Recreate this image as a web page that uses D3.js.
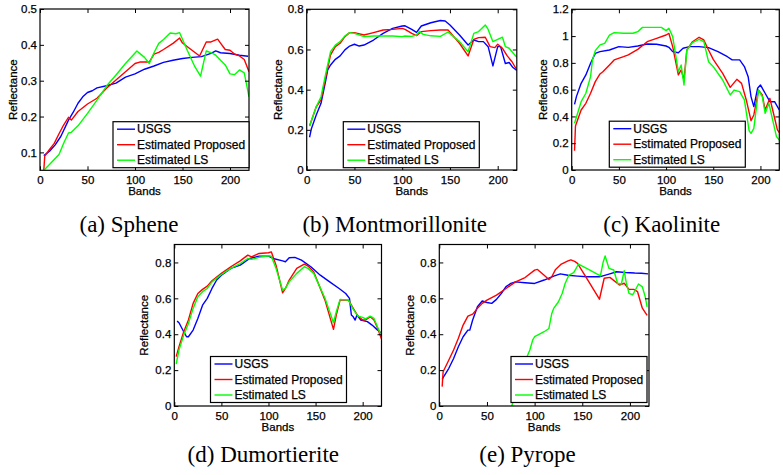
<!DOCTYPE html>
<html>
<head>
<meta charset="utf-8">
<script src="https://cdn.jsdelivr.net/npm/d3@7"></script>
<style>
  body { margin: 0; background: #fff; }
  svg { display: block; }
</style>
</head>
<body>
<svg width="783" height="475"></svg>
<script>
const seriesNames = ["USGS", "Estimated Proposed", "Estimated LS"];
const seriesColors = ["#0000ff", "#ff0000", "#00ff00"];
const xDomain = [0, 220];
const xTicks = [0, 50, 100, 150, 200];

// (a) Sphene  [band, reflectance]
const spheneUSGS = [[4,0.091],[10,0.103],[16,0.121],[22,0.145],[30,0.19],[35,0.212],[40,0.237],[45,0.255],[50,0.267],[55,0.272],[60,0.28],[70,0.286],[80,0.293],[90,0.31],[100,0.319],[110,0.332],[120,0.341],[130,0.351],[140,0.357],[150,0.362],[160,0.365],[170,0.367],[180,0.376],[185,0.383],[190,0.378],[200,0.376],[210,0.371],[219,0.368]];
const spheneProposed = [[4,0.05],[5,0.09],[10,0.108],[15,0.125],[20,0.152],[25,0.177],[30,0.198],[33,0.19],[40,0.214],[50,0.235],[60,0.251],[70,0.279],[80,0.302],[90,0.325],[100,0.348],[105,0.352],[115,0.352],[120,0.374],[125,0.379],[130,0.387],[140,0.404],[147,0.419],[150,0.405],[160,0.385],[168,0.369],[175,0.408],[180,0.408],[187,0.416],[190,0.405],[195,0.387],[200,0.385],[205,0.374],[210,0.369],[215,0.359],[220,0.325]];
const spheneLS = [[4,0.05],[10,0.066],[20,0.094],[25,0.126],[30,0.154],[33,0.156],[40,0.174],[50,0.209],[60,0.246],[70,0.285],[80,0.316],[90,0.348],[102,0.383],[110,0.365],[115,0.348],[120,0.378],[125,0.404],[130,0.415],[137,0.433],[143,0.431],[147,0.434],[155,0.385],[163,0.339],[169,0.313],[175,0.383],[180,0.378],[185,0.371],[190,0.357],[195,0.344],[200,0.319],[205,0.317],[210,0.33],[215,0.322],[220,0.255]];

// (b) Montmorillonite
const montUSGS = [[3,0.163],[5,0.207],[10,0.274],[15,0.332],[20,0.448],[22,0.498],[25,0.523],[30,0.551],[35,0.568],[40,0.598],[45,0.617],[50,0.626],[55,0.617],[60,0.622],[70,0.647],[80,0.68],[90,0.705],[100,0.717],[103,0.718],[110,0.7],[115,0.685],[120,0.717],[130,0.733],[140,0.744],[145,0.742],[150,0.722],[160,0.672],[169,0.622],[175,0.647],[180,0.639],[185,0.639],[190,0.614],[195,0.518],[200,0.614],[203,0.614],[208,0.53],[212,0.535],[216,0.51],[220,0.495]];
const montProposed = [[3,0.219],[10,0.315],[15,0.349],[20,0.465],[25,0.573],[30,0.614],[35,0.631],[40,0.664],[45,0.684],[50,0.684],[60,0.672],[70,0.684],[80,0.697],[90,0.7],[100,0.705],[103,0.7],[110,0.68],[115,0.669],[120,0.689],[130,0.694],[140,0.697],[148,0.697],[160,0.631],[169,0.568],[175,0.65],[180,0.659],[187,0.661],[192,0.614],[197,0.609],[200,0.626],[205,0.606],[210,0.568],[215,0.539],[220,0.498]];
const montLS = [[3,0.219],[10,0.315],[15,0.365],[20,0.481],[25,0.589],[30,0.622],[35,0.639],[40,0.667],[45,0.684],[50,0.68],[60,0.664],[70,0.667],[80,0.667],[90,0.667],[100,0.664],[103,0.667],[110,0.665],[115,0.672],[118,0.69],[122,0.675],[130,0.668],[140,0.665],[148,0.687],[160,0.639],[169,0.589],[175,0.68],[180,0.689],[187,0.722],[190,0.7],[195,0.639],[200,0.65],[205,0.661],[208,0.614],[212,0.606],[215,0.589],[220,0.561]];

// (c) Kaolinite
const kaolUSGS = [[3,0.49],[5,0.548],[10,0.647],[15,0.71],[20,0.797],[25,0.871],[30,0.884],[40,0.896],[50,0.921],[60,0.916],[70,0.926],[80,0.941],[90,0.939],[100,0.926],[103,0.916],[107,0.884],[113,0.876],[118,0.909],[125,0.921],[135,0.921],[145,0.914],[155,0.884],[165,0.846],[170,0.822],[178,0.822],[183,0.772],[187,0.697],[190,0.548],[193,0.473],[197,0.61],[200,0.635],[205,0.573],[210,0.51],[215,0.51],[220,0.448]];
const kaolProposed = [[3,0.144],[4,0.329],[10,0.448],[15,0.498],[20,0.573],[25,0.66],[30,0.717],[33,0.734],[40,0.784],[45,0.822],[55,0.846],[60,0.859],[70,0.901],[80,0.958],[90,0.983],[100,1.008],[103,1.02],[107,0.921],[113,0.71],[116,0.747],[119,0.672],[122,0.896],[128,0.958],[135,0.991],[140,0.971],[145,0.896],[150,0.826],[160,0.722],[168,0.617],[175,0.677],[180,0.647],[185,0.523],[190,0.368],[193,0.411],[198,0.597],[202,0.56],[205,0.448],[210,0.535],[213,0.448],[218,0.299],[220,0.279]];
const kaolLS = [[3,0.349],[10,0.51],[15,0.573],[20,0.697],[22,0.822],[25,0.891],[30,0.934],[35,0.946],[40,1.008],[45,1.026],[55,1.021],[65,1.021],[70,1.033],[75,1.065],[85,1.065],[95,1.065],[100,1.041],[103,1.058],[107,0.996],[113,0.734],[116,0.784],[119,0.635],[122,0.896],[128,0.951],[135,0.976],[140,0.958],[145,0.809],[150,0.772],[160,0.672],[168,0.56],[172,0.597],[178,0.585],[183,0.523],[188,0.294],[190,0.274],[193,0.311],[198,0.597],[202,0.548],[205,0.423],[209,0.498],[213,0.373],[217,0.249],[220,0.224]];

// (d) Dumortierite
const dumoUSGS = [[3,0.473],[5,0.464],[10,0.414],[13,0.386],[15,0.386],[20,0.423],[25,0.488],[30,0.562],[35,0.6],[40,0.655],[45,0.702],[50,0.729],[60,0.767],[70,0.785],[80,0.822],[90,0.835],[100,0.835],[105,0.822],[115,0.809],[118,0.804],[122,0.826],[128,0.828],[135,0.813],[145,0.776],[155,0.729],[165,0.692],[175,0.655],[182,0.627],[186,0.6],[188,0.507],[190,0.497],[192,0.479],[194,0.507],[198,0.479],[205,0.47],[210,0.451],[215,0.427],[220,0.405]];
const dumoProposed = [[2,0.275],[5,0.33],[10,0.414],[15,0.479],[20,0.572],[25,0.627],[30,0.65],[35,0.668],[40,0.698],[50,0.739],[60,0.776],[70,0.809],[78,0.841],[82,0.831],[90,0.85],[100,0.854],[103,0.859],[108,0.785],[115,0.631],[118,0.655],[122,0.702],[130,0.767],[138,0.791],[142,0.78],[148,0.748],[160,0.59],[169,0.427],[172,0.507],[176,0.59],[185,0.59],[190,0.544],[195,0.501],[200,0.479],[203,0.479],[208,0.497],[212,0.479],[216,0.432],[220,0.373]];
const dumoLS = [[2,0.234],[5,0.312],[10,0.395],[15,0.46],[20,0.544],[25,0.609],[30,0.637],[35,0.655],[40,0.692],[50,0.733],[60,0.767],[70,0.794],[78,0.822],[82,0.817],[90,0.828],[100,0.837],[103,0.835],[108,0.767],[115,0.646],[118,0.655],[122,0.692],[130,0.739],[138,0.776],[142,0.767],[148,0.739],[160,0.6],[169,0.464],[172,0.525],[176,0.594],[185,0.59],[190,0.538],[195,0.501],[200,0.494],[203,0.486],[208,0.501],[212,0.488],[216,0.438],[219,0.401]];

// (e) Pyrope
const pyroUSGS = [[3,0.148],[5,0.167],[10,0.21],[15,0.265],[20,0.33],[25,0.386],[30,0.423],[32,0.423],[35,0.479],[40,0.553],[45,0.585],[50,0.577],[55,0.572],[60,0.594],[65,0.627],[70,0.665],[75,0.683],[80,0.692],[90,0.687],[100,0.683],[110,0.702],[120,0.724],[127,0.736],[135,0.729],[145,0.724],[155,0.72],[168,0.72],[178,0.735],[186,0.748],[195,0.744],[205,0.741],[212,0.74],[219,0.736]];
const pyroProposed = [[3,0.108],[4,0.191],[10,0.256],[15,0.312],[20,0.377],[25,0.451],[30,0.501],[35,0.512],[40,0.544],[45,0.572],[50,0.59],[60,0.618],[70,0.655],[80,0.692],[90,0.716],[100,0.757],[103,0.761],[110,0.729],[115,0.705],[118,0.72],[122,0.761],[128,0.791],[135,0.809],[138,0.814],[142,0.806],[145,0.795],[156,0.7],[168,0.595],[173,0.712],[179,0.717],[189,0.674],[194,0.684],[199,0.65],[204,0.65],[208,0.637],[213,0.545],[218,0.505]];
const pyroLS = [[74,-0.02],[76,0.0],[92,0.275],[95,0.312],[98,0.368],[100,0.386],[103,0.395],[110,0.414],[115,0.432],[118,0.516],[120,0.544],[125,0.581],[129,0.628],[132,0.683],[136,0.73],[141,0.743],[146,0.79],[158,0.757],[169,0.725],[172,0.804],[174,0.836],[178,0.767],[183,0.758],[187,0.684],[191,0.68],[194,0.754],[196,0.69],[199,0.628],[203,0.62],[209,0.68],[213,0.664],[216,0.61],[218,0.553]];

const captions = ["(a) Sphene", "(b) Montmorillonite", "(c) Kaolinite", "(d) Dumortierite", "(e) Pyrope"];
const yDomains = [[0.05, 0.5], [0, 0.8], [0, 1.2], [0, 0.9], [0, 0.9]];
const yTicks = [
  [0.1, 0.2, 0.3, 0.4, 0.5],
  [0, 0.2, 0.4, 0.6, 0.8],
  [0, 0.2, 0.4, 0.6, 0.8, 1, 1.2],
  [0, 0.2, 0.4, 0.6, 0.8],
  [0, 0.2, 0.4, 0.6, 0.8]
];
const panelSeries = [
  [spheneUSGS, spheneProposed, spheneLS],
  [montUSGS, montProposed, montLS],
  [kaolUSGS, kaolProposed, kaolLS],
  [dumoUSGS, dumoProposed, dumoLS],
  [pyroUSGS, pyroProposed, pyroLS]
];

// layout (pixels)
const layout = [
  { L: 40, R: 249, T: 9, B: 170.3, legX: 113, legY: 121.7, capX: 129, capY: 232, ylabX: 12.7 },
  { L: 306.7, R: 516.8, T: 9.3, B: 170, legX: 343.3, legY: 121.7, capX: 394.7, capY: 232, ylabX: 278.3 },
  { L: 571.7, R: 779.3, T: 9.3, B: 170, legX: 609.3, legY: 121.2, capX: 661.7, capY: 232, ylabX: 543.3 },
  { L: 174.3, R: 381.5, T: 244.5, B: 406, legX: 210.5, legY: 356.5, capX: 263.3, capY: 461.5, ylabX: 144 },
  { L: 439.3, R: 649, T: 244.5, B: 406, legX: 511, legY: 356.5, capX: 527.5, capY: 461.5, ylabX: 410 }
];

const sansFont = "'Liberation Sans', Arial, Helvetica, sans-serif";
const serifFont = "'Liberation Serif', 'Times New Roman', serif";

const svg = d3.select("svg");

for (let i = 0; i < captions.length; i++) {
  drawPanel(i);
}

function fmt(v) {
  return String(+v.toFixed(1));
}

// slightly heavier sans text, closer to the scanned look
function sansText(sel, size) {
  sel
    .attr("fill", "#000")
    .attr("stroke", "#000")
    .attr("stroke-width", 0.25)
    .attr("font-family", sansFont)
    .attr("font-size", size);
}

function drawPanel(i) {
  const p = layout[i];
  const g = svg.append("g");

  const xScale = d3.scaleLinear().domain(xDomain).range([p.L, p.R]);
  const yScale = d3.scaleLinear().domain(yDomains[i]).range([p.B, p.T]);

  const clipId = "clip" + i;
  g.append("clipPath")
    .attr("id", clipId)
    .append("rect")
    .attr("x", p.L)
    .attr("y", p.T)
    .attr("width", p.R - p.L)
    .attr("height", p.B - p.T);

  const line = d3
    .line()
    .x((d) => xScale(d[0]))
    .y((d) => yScale(d[1]));

  panelSeries[i].forEach((s, k) => {
    g.append("path")
      .datum(s)
      .attr("clip-path", `url(#${clipId})`)
      .attr("fill", "none")
      .attr("stroke", seriesColors[k])
      .attr("stroke-width", 1.4)
      .attr("stroke-linejoin", "round")
      .attr("d", line);
  });

  // axes with inward ticks on all four sides
  const styleAxis = (a) => {
    a.select(".domain").remove();
    a.selectAll(".tick line").attr("stroke", "#000");
    a.selectAll("text").call(sansText, 11.5);
  };

  g.append("g")
    .attr("transform", `translate(0,${p.B})`)
    .call(d3.axisBottom(xScale).tickValues(xTicks).tickSize(-4).tickPadding(6).tickFormat(d3.format("d")))
    .call(styleAxis);
  g.append("g")
    .attr("transform", `translate(0,${p.T})`)
    .call(d3.axisTop(xScale).tickValues(xTicks).tickSize(-4).tickFormat(""))
    .call(styleAxis);
  g.append("g")
    .attr("transform", `translate(${p.L},0)`)
    .call(d3.axisLeft(yScale).tickValues(yTicks[i]).tickSize(-4).tickPadding(3).tickFormat(fmt))
    .call(styleAxis);
  g.append("g")
    .attr("transform", `translate(${p.R},0)`)
    .call(d3.axisRight(yScale).tickValues(yTicks[i]).tickSize(-4).tickFormat(""))
    .call(styleAxis);

  g.append("rect")
    .attr("x", p.L)
    .attr("y", p.T)
    .attr("width", p.R - p.L)
    .attr("height", p.B - p.T)
    .attr("fill", "none")
    .attr("stroke", "#000")
    .attr("stroke-width", 1.2);

  // axis titles
  g.append("text")
    .text("Bands")
    .attr("x", (p.L + p.R) / 2)
    .attr("y", p.B + 24.7)
    .attr("text-anchor", "middle")
    .call(sansText, 11.5);

  const yMid = (p.T + p.B) / 2;
  g.append("text")
    .text("Reflectance")
    .attr("x", p.ylabX + 4)
    .attr("y", yMid)
    .attr("text-anchor", "middle")
    .attr("transform", `rotate(-90 ${p.ylabX + 4} ${yMid})`)
    .call(sansText, 11.5);

  // legend
  const leg = g.append("g").attr("transform", `translate(${p.legX},${p.legY})`);
  leg.append("rect")
    .attr("width", 136)
    .attr("height", 46)
    .attr("fill", "#fff")
    .attr("stroke", "#000")
    .attr("stroke-width", 1.2);
  seriesNames.forEach((name, k) => {
    const ly = 7.5 + k * 15.5;
    leg.append("line")
      .attr("x1", 4)
      .attr("x2", 22)
      .attr("y1", ly)
      .attr("y2", ly)
      .attr("stroke", seriesColors[k])
      .attr("stroke-width", 1.4);
    leg.append("text")
      .text(name)
      .attr("x", 24)
      .attr("y", ly + 4.3)
      .call(sansText, 12);
  });

  // caption
  svg.append("text")
    .text(captions[i])
    .attr("x", p.capX)
    .attr("y", p.capY)
    .attr("text-anchor", "middle")
    .attr("font-family", serifFont)
    .attr("font-size", 23);
}
</script>
</body>
</html>
